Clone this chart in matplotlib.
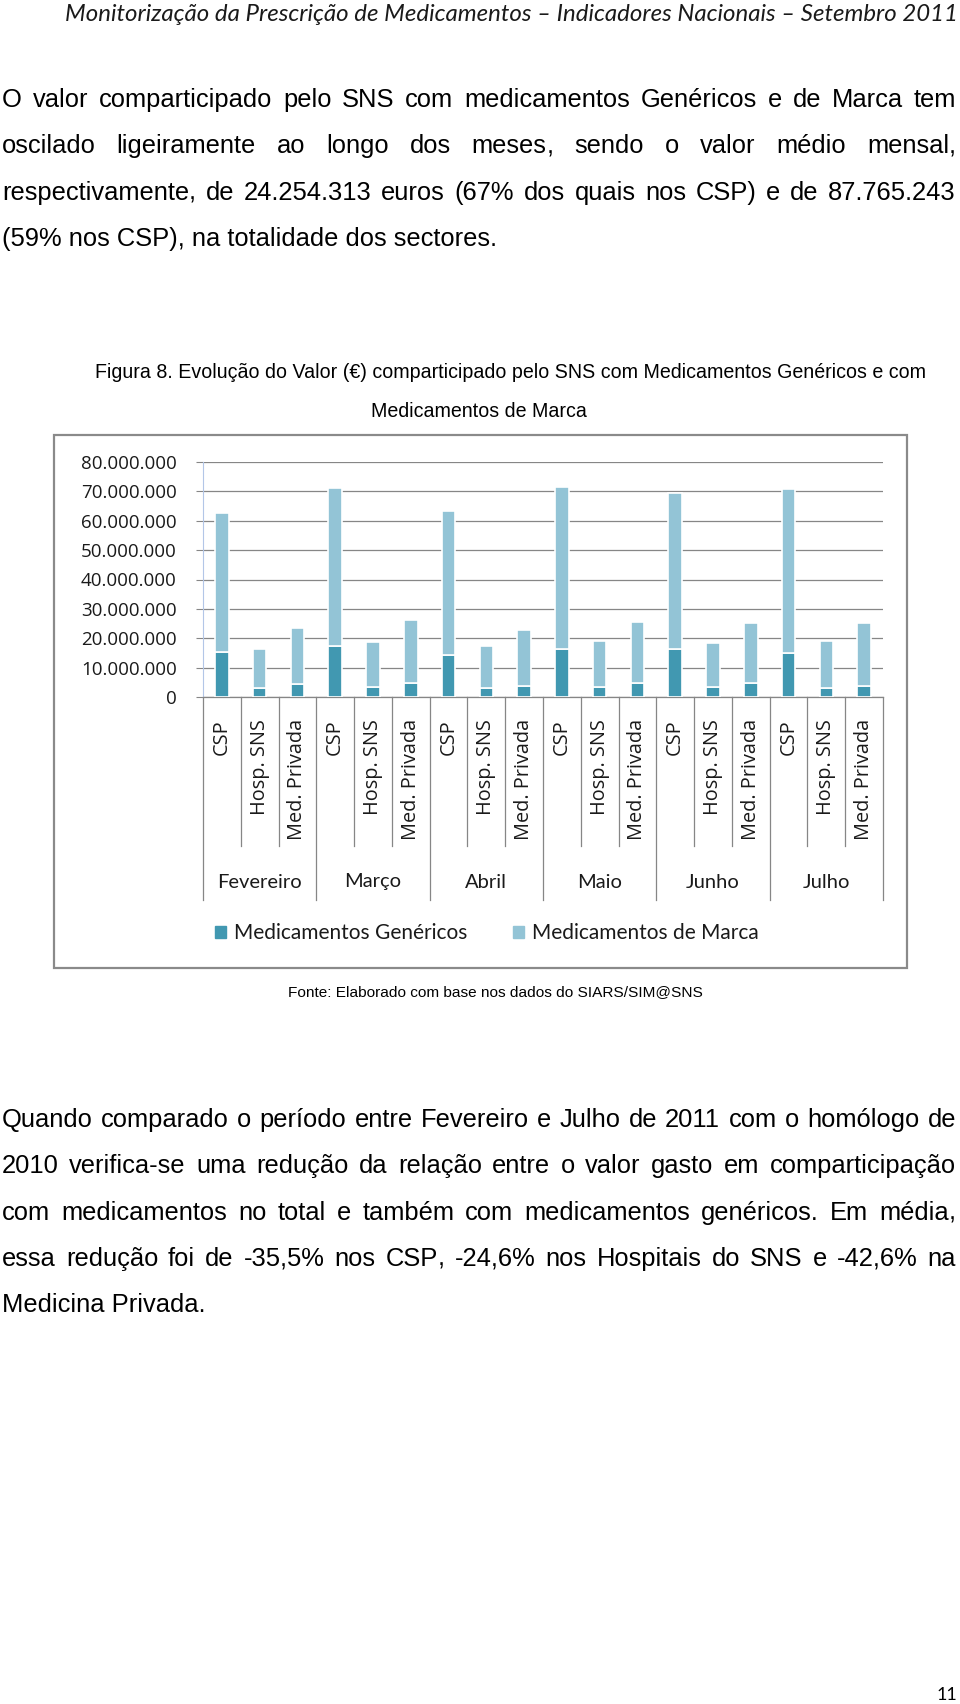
import matplotlib
matplotlib.use("Agg")
import matplotlib.pyplot as plt
from matplotlib.patches import Rectangle, Patch
import matplotlib.transforms as mtransforms
import numpy as np

W, H = 960, 1704

months = ["Fevereiro", "Março", "Abril", "Maio", "Junho", "Julho"]
sectors = ["CSP", "Hosp. SNS", "Med. Privada"]
# values (millions of euros): per month CSP, Hosp. SNS, Med. Privada
genericos = [15.4, 3.1, 4.3,
             17.3, 3.4, 4.9,
             14.4, 3.1, 3.6,
             16.5, 3.4, 4.6,
             16.5, 3.4, 4.6,
             15.1, 3.1, 3.6]
totais = [62.6, 16.5, 23.5,
          71.1, 18.8, 26.2,
          63.4, 17.3, 22.8,
          71.4, 19.0, 25.6,
          69.6, 18.5, 25.3,
          70.9, 19.0, 25.3]
genericos = np.array(genericos) * 1e6
marca = np.array(totais) * 1e6 - genericos
yticks = np.arange(0, 80000001, 10000000)

header = "Monitorização da Prescrição de Medicamentos – Indicadores Nacionais – Setembro 2011"
para1 = ["O valor comparticipado pelo SNS com medicamentos Genéricos e de Marca tem",
         "oscilado ligeiramente ao longo dos meses, sendo o valor médio mensal,",
         "respectivamente, de 24.254.313 euros (67% dos quais nos CSP) e de 87.765.243",
         "(59% nos CSP), na totalidade dos sectores."]
caption = ["Figura 8. Evolução do Valor (€) comparticipado pelo SNS com Medicamentos Genéricos e com",
           "Medicamentos de Marca"]
fonte = "Fonte: Elaborado com base nos dados do SIARS/SIM@SNS"
para2 = ["Quando comparado o período entre Fevereiro e Julho de 2011 com o homólogo de",
         "2010 verifica-se uma redução da relação entre o valor gasto em comparticipação",
         "com medicamentos no total e também com medicamentos genéricos. Em média,",
         "essa redução foi de -35,5% nos CSP, -24,6% nos Hospitais do SNS e -42,6% na",
         "Medicina Privada."]

body_font = "Liberation Sans"
narrow_font = ["Liberation Sans Narrow", "Liberation Sans"]
chart_font = ["Lato", "DejaVu Sans"]

fig = plt.figure(figsize=(W / 100, H / 100), dpi=100)
fig.patch.set_facecolor("white")
r = fig.canvas.get_renderer()


def fx(x):
    return x / W


def fy(y):
    return 1 - y / H


def width_of(t):
    return t.get_window_extent(renderer=r).width


def fitted_text(x, y, s, target, ha="left", **kw):
    t = fig.text(fx(x), fy(y), s, ha=ha, va="baseline", fontsize=10, **kw)
    size = 10 * target / width_of(t)
    t.set_fontsize(size)
    return t, size


def justified(y, s, x0, x1, size, justify=True):
    if not justify:
        fig.text(fx(x0), fy(y), s, fontsize=size, family=body_font, va="baseline")
        return
    words = s.split(" ")
    # trailing commas are drawn on their own so that every word keeps the same baseline
    parts = []
    for w in words:
        if w.endswith(",") and len(w) > 1:
            parts.append([w[:-1], ","])
        else:
            parts.append([w])
    objs = []
    widths = []
    for p in parts:
        ts = [fig.text(0, fy(y), q, fontsize=size, family=body_font, va="baseline") for q in p]
        ws = [width_of(t) for t in ts]
        objs.append((ts, ws))
        widths.append(sum(ws))
    gap = (x1 - x0 - sum(widths)) / (len(widths) - 1)
    x = x0
    for ts, ws in objs:
        for t, w in zip(ts, ws):
            t.set_x(fx(x))
            x += w
        x += gap


# header
fitted_text(958, 21, header, 890, ha="right", family=["Lato", "DejaVu Sans"], style="italic", color="#1a1a1a")

# paragraph 1
for i, line in enumerate(para1):
    justified(107 + i * 46.3, line, 2, 956, 18.4, justify=i < len(para1) - 1)

# caption
t, cs = fitted_text(95, 378, caption[0], 832, family=narrow_font)
fig.text(fx(479), fy(417), caption[1], ha="center", va="baseline", fontsize=cs, family=narrow_font)

# chart frame
fig.patches.append(Rectangle((fx(54), fy(968)), fx(907) - fx(54), fy(435) - fy(968),
                             transform=fig.transFigure, fill=False, edgecolor="#8a8a8a", lw=1.6))

ax = fig.add_axes([fx(203), fy(697), fx(883) - fx(203), fy(462) - fy(697)])
x = np.arange(len(genericos))
ax.bar(x, genericos, width=0.36, color="#4198B1", edgecolor="white", lw=1.2, zorder=3)
ax.bar(x, marca, width=0.36, bottom=genericos, color="#93C4D6", edgecolor="white", lw=1.2, zorder=3)
ax.set_xlim(-0.5, len(x) - 0.5)
ax.set_ylim(0, 80000000)
ax.set_yticks(yticks)
ax.set_yticklabels(["0" if v == 0 else f"{v:,}".replace(",", ".") for v in yticks],
                   family=["Open Sans", "DejaVu Sans"], fontsize=13.5, color="#1a1a1a")
ax.tick_params(axis="y", length=5, color="#868686", pad=14)
ax.grid(axis="y", color="#868686", lw=0.9, zorder=0)
ax.set_xticks([])
for s in ["top", "right"]:
    ax.spines[s].set_visible(False)
ax.spines["left"].set_color("#b3c6e7")
ax.spines["bottom"].set_color("#868686")
ax.spines["bottom"].set_linewidth(0.9)

trans = mtransforms.blended_transform_factory(ax.transData, ax.transAxes)
for b in np.arange(-0.5, len(x), 1.0):
    bottom = 900 if (b + 0.5) % 3 == 0 else 846
    ax.plot([b, b], [0, -(bottom - 697) / (697 - 462)], transform=trans, color="#868686",
            lw=0.9, clip_on=False)
for i in range(len(x)):
    ax.text(i, -(719 - 697) / (697 - 462), sectors[i % 3], transform=trans, rotation=90,
            ha="center", va="top", fontsize=14.3, family=["Open Sans", "DejaVu Sans"], color="#1a1a1a")
for j, m in enumerate(months):
    ax.text(3 * j + 1, -(882 - 697) / (697 - 462), m, transform=trans, ha="center", va="center",
            fontsize=14.5, family=chart_font, color="#1a1a1a")

handles = [Patch(color="#4198B1"), Patch(color="#93C4D6")]
fig.legend(handles, ["Medicamentos Genéricos", "Medicamentos de Marca"], loc="center",
           bbox_to_anchor=(fx(487), fy(933)), ncol=2, frameon=False,
           prop={"family": chart_font, "size": 15}, handlelength=0.5, handleheight=0.5,
           handletextpad=0.4, columnspacing=2.2, labelcolor="#1a1a1a")

# source
fitted_text(495, 996, fonte, 417, ha="center", family=narrow_font)

# paragraph 2
for i, line in enumerate(para2):
    justified(1127 + i * 46.3, line, 2, 956, 18.4, justify=i < len(para2) - 1)

# page number
fig.text(fx(957), fy(1700), "11", ha="right", va="baseline", fontsize=13,
         family=["Lato", "DejaVu Sans"])

fig.savefig("out.png", dpi=100)
